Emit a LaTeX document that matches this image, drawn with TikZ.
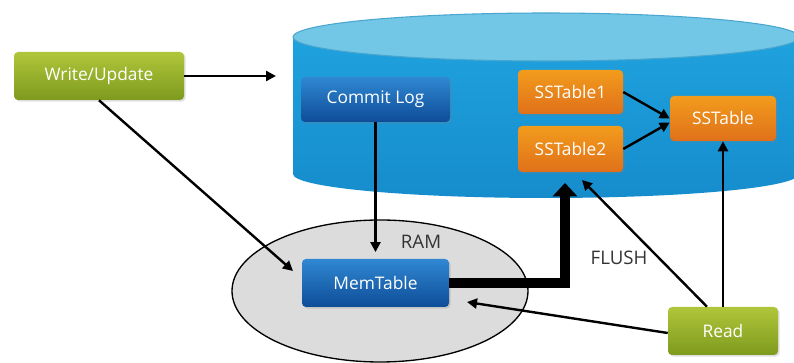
\documentclass[tikz,border=0pt]{standalone}
\usepackage{fontspec}
\setmainfont{Open Sans}
\usetikzlibrary{arrows.meta,shadows,calc}
\definecolor{greenT}{HTML}{B0C63A}
\definecolor{greenB}{HTML}{7E9A1E}
\definecolor{blueT}{HTML}{3088D2}
\definecolor{blueB}{HTML}{0E4C98}
\definecolor{orangeT}{HTML}{F29C1C}
\definecolor{orangeB}{HTML}{E0701A}
\definecolor{cylTop}{HTML}{72C7E7}
\definecolor{cylEdge}{HTML}{4AA6CF}
\definecolor{cylBodyT}{HTML}{1FA2DE}
\definecolor{cylBodyB}{HTML}{168CCC}
\definecolor{ramfill}{HTML}{DCDCDC}
\definecolor{labelgray}{HTML}{333333}
\tikzset{
  boxbase/.style={rounded corners=3pt, inner sep=0pt, text=white,
    font=\fontsize{13}{15}\selectfont,
    drop shadow={opacity=0.25, shadow xshift=1.2pt, shadow yshift=-1.2pt}},
  greenbox/.style={boxbase, top color=greenT, bottom color=greenB},
  bluebox/.style={boxbase, top color=blueT, bottom color=blueB},
  orangebox/.style={boxbase, top color=orangeT, bottom color=orangeB},
  arr/.style={line width=1.8pt, -{Triangle[width=7.5pt,length=7.5pt]}},
  lbl/.style={text=labelgray, font=\fontsize{14}{16}\selectfont}
}
\begin{document}
\begin{tikzpicture}[x=0.75pt,y=-0.75pt]
\useasboundingbox (0,0) rectangle (794,363);
% cylinder
\shade[top color=cylBodyT, bottom color=cylBodyB] (293,37) -- (293,174)
  arc[start angle=180, end angle=360, x radius=189.75pt, y radius=18pt]
  -- (799,37) -- cycle;
\filldraw[fill=cylTop, draw=cylEdge, line width=0.8pt] (546,37) ellipse [x radius=189.75pt, y radius=18pt];
% RAM ellipse
\filldraw[fill=ramfill, draw=black, line width=1pt] (380,291) ellipse [x radius=111pt, y radius=53.25pt];
% nodes
\node[greenbox, minimum width=127.5pt, minimum height=36pt] (write) at (99,76) {Write/Update};
\node[bluebox, minimum width=111.75pt, minimum height=33.75pt] (commit) at (375.5,99.5) {Commit Log};
\node[orangebox, minimum width=78.75pt, minimum height=33pt] (ss1) at (570.5,92) {SSTable1};
\node[orangebox, minimum width=78.75pt, minimum height=34.5pt] (ss2) at (570.5,149) {SSTable2};
\node[orangebox, minimum width=79.5pt, minimum height=33.75pt] (ss) at (723,118.5) {SSTable};
\node[bluebox, minimum width=110.25pt, minimum height=36pt] (mem) at (375.5,283) {MemTable};
\node[greenbox, minimum width=82.5pt, minimum height=36pt] (read) at (723,331) {Read};
\node[lbl] (ram) at (421,242) {RAM};
\node[lbl] (flush) at (619,258) {FLUSH};
% free ends
\coordinate (cylin) at (276,76);
\coordinate (memin) at (293,271);
\coordinate (memright) at (467,302);
\coordinate (cylbottom) at (582,180);
\coordinate (flushcorner) at (565,283);
\coordinate (flushend) at (565,183);
% connectors
\draw[arr] (write.east) -- (cylin);
\draw[arr] (write.south) -- (memin);
\draw[arr, shorten >=5pt] (commit.south) -- (mem.north);
\draw[arr] (ss1.east) -- (ss.west);
\draw[arr] (ss2.east) -- ($(ss.west)+(0,4)$);
\draw[line width=7.5pt, line join=miter, -{Triangle[width=18pt,length=10pt]}] (mem.east) -- (flushcorner) -- (flushend);
\draw[arr] ($(read.west)+(0,2)$) -- (memright);
\draw[arr] ($(read.north)+(-16,0)$) -- (cylbottom);
\draw[arr] (read.north) -- (ss.south);
\end{tikzpicture}
\end{document}
